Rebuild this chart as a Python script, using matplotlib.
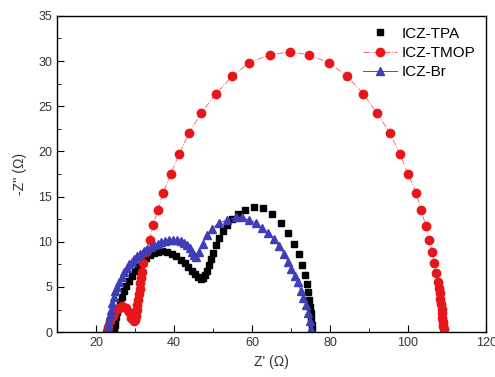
import numpy as np
import matplotlib
matplotlib.use("Agg")
import matplotlib.pyplot as plt
from matplotlib.ticker import MultipleLocator

plt.rcParams['font.family'] = ['Liberation Sans', 'DejaVu Sans']

# ICZ-TPA (black squares)
tpa_x = [24.6, 24.7, 24.9, 25.0, 25.2, 25.5, 25.8, 26.2, 26.7, 27.2, 27.8, 28.5, 29.2, 30.0,
         30.9, 31.8, 32.8, 33.8, 34.8, 35.9, 37.0, 38.2, 39.4, 40.6, 41.7, 42.7, 43.7, 44.6,
         45.4, 46.1, 46.8, 47.4, 47.9, 48.4, 48.9, 49.4, 50.0, 50.7, 51.5, 52.5, 53.7, 55.0,
         56.5, 58.3, 60.4, 62.7, 65.1, 67.4, 69.2, 70.8, 72.0, 72.9, 73.6, 74.0, 74.4, 74.7,
         74.9, 75.1, 75.2, 75.3, 75.4]
tpa_y = [0.0, 0.4, 0.8, 1.2, 1.7, 2.2, 2.7, 3.3, 3.9, 4.5, 5.1, 5.7, 6.2, 6.8,
         7.3, 7.8, 8.2, 8.5, 8.8, 8.9, 9.0, 8.9, 8.7, 8.4, 8.0, 7.6, 7.2, 6.8,
         6.4, 6.1, 5.9, 6.0, 6.3, 6.8, 7.4, 8.1, 8.8, 9.6, 10.4, 11.2, 11.9, 12.5,
         13.1, 13.5, 13.8, 13.7, 13.1, 12.1, 11.0, 9.8, 8.6, 7.4, 6.3, 5.3, 4.4, 3.6,
         2.8, 2.1, 1.4, 0.8, 0.2]

# ICZ-TMOP (red circles)
tmop_x = [22.8, 23.2, 23.7, 24.3, 25.0, 25.8, 26.7, 27.6, 28.4, 29.1, 29.7, 30.0, 30.2, 30.4,
          30.6, 30.8, 31.0, 31.2, 31.4, 31.6, 31.8, 32.1, 32.8, 33.8, 34.6, 35.9, 37.2, 39.2,
          41.3, 43.8, 46.9, 50.8, 54.9, 59.2, 64.6, 69.7, 74.6, 79.7, 84.4, 88.5, 92.1, 95.4,
          97.9, 100.0, 102.1, 103.3, 104.6, 105.4, 106.2, 106.7, 107.2, 107.7, 107.9, 108.1,
          108.3, 108.4, 108.6, 108.7, 108.8, 108.9, 109.0, 109.1]
tmop_y = [0.1, 0.6, 1.2, 1.8, 2.3, 2.7, 2.9, 2.7, 2.2, 1.6, 1.2, 1.3, 1.8, 2.4,
          3.0, 3.6, 4.2, 4.8, 5.4, 6.0, 6.7, 7.6, 8.9, 10.2, 11.8, 13.5, 15.4, 17.5,
          19.7, 22.0, 24.2, 26.4, 28.3, 29.8, 30.7, 31.0, 30.7, 29.8, 28.3, 26.4, 24.2, 22.0,
          19.7, 17.5, 15.4, 13.5, 11.7, 10.2, 8.9, 7.6, 6.5, 5.5, 4.9, 4.3,
          3.7, 3.1, 2.6, 2.1, 1.6, 1.1, 0.7, 0.3]

# ICZ-Br (blue triangles)
br_x = [23.1, 23.2, 23.3, 23.5, 23.8, 24.2, 24.6, 25.0, 25.4, 26.0, 26.7, 27.3, 27.9, 28.6,
        29.2, 29.8, 30.5, 31.4, 32.3, 33.2, 34.1, 35.0, 35.9, 36.8, 37.8, 38.8, 39.8, 40.8,
        41.8, 42.6, 43.3, 44.0, 44.6, 45.2, 45.7, 46.5, 47.4, 48.4, 49.7, 51.5, 53.6, 55.9,
        57.4, 59.2, 61.0, 62.6, 64.1, 65.6, 66.9, 68.2, 69.2, 70.1, 70.9, 71.7, 72.5, 73.2,
        73.8, 74.4, 74.9, 75.2]
br_y = [0.0, 0.6, 1.3, 1.9, 2.4, 3.2, 3.9, 4.5, 5.0, 5.6, 6.1, 6.6, 7.1, 7.5,
        7.8, 8.1, 8.4, 8.7, 9.0, 9.2, 9.4, 9.6, 9.8, 10.0, 10.1, 10.2, 10.2, 10.2,
        10.1, 9.9, 9.6, 9.3, 8.9, 8.5, 8.3, 8.9, 9.8, 10.7, 11.4, 12.1, 12.4, 12.7,
        12.7, 12.4, 12.1, 11.5, 11.0, 10.3, 9.5, 8.7, 7.8, 7.0, 6.2, 5.5, 4.6, 3.8,
        3.0, 2.1, 1.2, 0.4]

fig = plt.figure(figsize=(4.95, 3.77), dpi=100)
ax = fig.add_axes([0.115, 0.119, 0.867, 0.839])

ax.plot(tpa_x, tpa_y, linestyle='none', marker='s', ms=5, color='black', label='ICZ-TPA')
ax.plot(tmop_x, tmop_y, linestyle='-.', lw=0.7, color='#f07070', marker='o', ms=6,
        mfc='#e8161b', mec='#e8161b', label='ICZ-TMOP')
ax.plot(br_x, br_y, linestyle='-', lw=0.7, color='#4b4bc0', marker='^', ms=5.5,
        mfc='#3e3eb8', mec='#3e3eb8', label='ICZ-Br')

ax.set_xlim(10, 120)
ax.set_ylim(0, 35)
ax.xaxis.set_major_locator(MultipleLocator(20))
ax.xaxis.set_minor_locator(MultipleLocator(10))
ax.yaxis.set_major_locator(MultipleLocator(5))
ax.yaxis.set_minor_locator(MultipleLocator(2.5))
ax.set_xticks([20, 40, 60, 80, 100, 120])
ax.tick_params(which='both', direction='in', top=False, right=False, labelsize=9,
               labelcolor='#333333')
ax.tick_params(which='major', length=5)
ax.tick_params(which='minor', length=3)
for s in ax.spines.values():
    s.set_linewidth(1.0)

ax.set_xlabel("Z' (\u03a9)", fontsize=10, color='#333333', labelpad=4)
ax.set_ylabel("-Z'' (\u03a9)", fontsize=10, color='#333333', labelpad=8)

ax.legend(loc='upper right', frameon=False, fontsize=11, handlelength=2.2,
          handletextpad=0.3, labelspacing=0.35, borderaxespad=0.3)

fig.savefig('out.png', dpi=100)
